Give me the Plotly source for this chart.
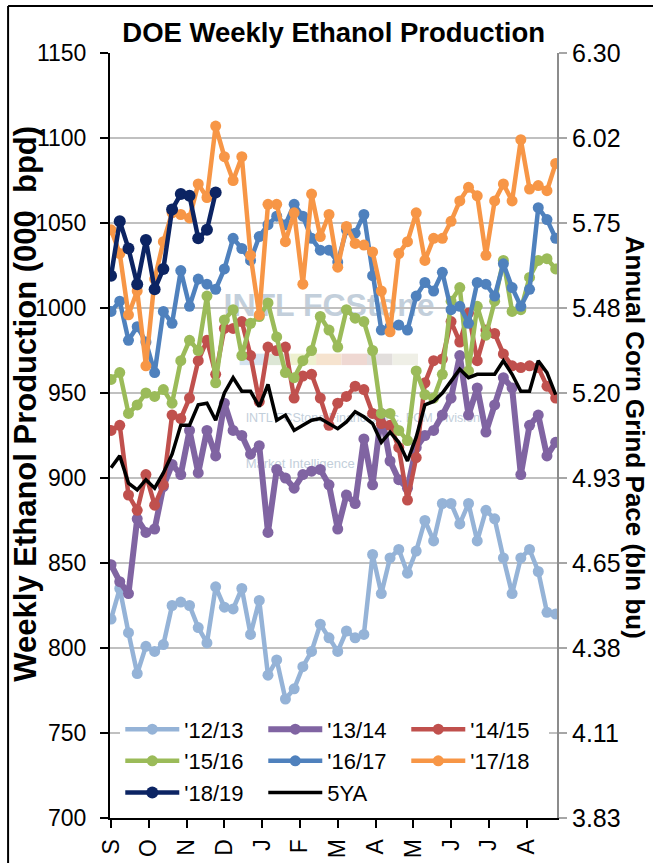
import plotly.graph_objects as go

# ---------------- data ----------------
months = ["S", "O", "N", "D", "J", "F", "M", "A", "M", "J", "J", "A"]
right_labels = ["3.83", "4.11", "4.38", "4.65", "4.93", "5.20", "5.48", "5.75", "6.02", "6.30"]
left_ticks = [700, 750, 800, 850, 900, 950, 1000, 1050, 1100, 1150]

y1213 = [817, 835, 809, 785, 801, 798, 802, 825, 827, 825, 812, 803, 836, 824, 823, 835, 808, 828,
         784, 793, 770, 776, 789, 798, 814, 806, 798, 810, 806, 808, 855, 832, 853, 858, 844, 857,
         875, 863, 885, 885, 873, 885, 863, 881, 876, 853, 832, 853, 858, 845, 821, 820]
y1314 = [849, 839, 832, 876, 868, 870, 895, 908, 902, 928, 903, 928, 913, 944, 928, 925, 914, 919,
         868, 905, 900, 894, 902, 904, 905, 896, 870, 890, 885, 923, 896, 938, 910, 899, 894, 918,
         925, 928, 937, 947, 972, 937, 953, 927, 943, 959, 953, 902, 931, 937, 913, 921]
y1415 = [928, 931, 890, 881, 902, 884, 896, 937, 935, 947, 969, 981, 961, 988, 988, 992, 972, 945,
         977, 975, 977, 947, 960, 961, 947, 931, 944, 948, 954, 952, 938, 932, 931, 918, 887, 912,
         956, 969, 970, 992, 980, 997, 969, 987, 985, 973, 966, 965, 966, 965, 954, 947]
y1516 = [958, 962, 938, 943, 950, 948, 952, 944, 969, 981, 975, 1007, 956, 993, 999, 972, 991, 995,
         1003, 983, 962, 959, 969, 975, 995, 987, 977, 999, 994, 992, 975, 938, 938, 928, 922, 963,
         949, 947, 961, 1004, 1012, 963, 1001, 984, 1004, 1028, 998, 999, 1018, 1028, 1029, 1023]
y1617 = [998, 1004, 981, 989, 980, 962, 998, 991, 1022, 1001, 1017, 1014, 1011, 1023, 1041, 1035,
         1028, 1042, 1049, 1054, 1049, 1061, 1054, 1041, 1034, 1034, 1027, 1046, 1044, 1055, 1019,
         987, 989, 990, 987, 1007, 1015, 1010, 1021, 999, 1001, 991, 1015, 1014, 1007, 1026, 1012,
         1001, 1011, 1059, 1052, 1041]
y1718 = [1046, 1032, 996, 1010, 966, 1017, 1039, 1056, 1055, 1053, 1073, 1065, 1107, 1089, 1075,
         1089, 1031, 996, 1061, 1061, 1039, 1056, 1014, 1067, 1042, 1055, 1024, 1048, 1038, 1037,
         1033, 1010, 986, 1032, 1039, 1056, 1028, 1041, 1041, 1051, 1063, 1071, 1066, 1031, 1063,
         1073, 1063, 1099, 1070, 1072, 1069, 1085]
y1819 = [1019, 1051, 1035, 1014, 1040, 1011, 1023, 1058, 1067, 1066, 1041, 1046, 1068]
y5ya = [906, 913, 897, 893, 899, 894, 903, 914, 931, 931, 943, 944, 934, 950, 959, 951, 951, 942,
        955, 934, 937, 928, 931, 934, 935, 932, 929, 933, 939, 936, 932, 921, 927, 921, 910, 924,
        943, 945, 950, 957, 964, 959, 961, 961, 961, 969, 961, 951, 951, 969, 962, 949]

series = [
    ("'12/13", y1213, "#95B3D7", 4.5, 11),
    ("'13/14", y1314, "#8064A2", 6, 11),
    ("'14/15", y1415, "#C0504D", 4.5, 11),
    ("'15/16", y1516, "#9BBB59", 4.5, 11),
    ("'16/17", y1617, "#4F81BD", 4.5, 11),
    ("'17/18", y1718, "#F79646", 4.5, 11),
    ("'18/19", y1819, "#0C2463", 4.5, 12),
]

SANS = "Liberation Sans, Arial, sans-serif"
NARROW = "Liberation Sans Narrow, Arial Narrow, Liberation Sans, Arial, sans-serif"

fig = go.Figure()
for name, vals, col, lw, ms in series:
    fig.add_trace(go.Scatter(
        x=list(range(len(vals))), y=vals, name=name, mode="lines+markers",
        line=dict(color=col, width=lw), marker=dict(color=col, size=ms),
    ))
fig.add_trace(go.Scatter(
    x=list(range(len(y5ya))), y=y5ya, name="5YA", mode="lines",
    line=dict(color="black", width=3.5),
))
# carrier for the right-hand axis
fig.add_trace(go.Scatter(x=[], y=[], yaxis="y2", showlegend=False, hoverinfo="skip"))

n_weeks = len(y1213)
month_pos = [k * n_weeks / len(months) for k in range(len(months))]

fig.update_layout(
    template="none",
    width=653, height=863,
    margin=dict(l=110, r=96, t=53, b=45, autoexpand=False),
    paper_bgcolor="white", plot_bgcolor="white",
    showlegend=True,
    title=dict(text="DOE Weekly Ethanol Production", x=0.511, y=0.962,
               xanchor="center", yanchor="middle",
               font=dict(family=SANS, size=27.5, color="black", weight="bold")),
    xaxis=dict(
        range=[-0.12, n_weeks - 0.85], tickvals=month_pos, ticktext=months,
        tickangle=-90, ticks="outside", ticklen=8, tickcolor="black", tickwidth=1.5,
        showline=True, linecolor="black", linewidth=2, showgrid=False, zeroline=False,
        automargin=False, ticklabelstandoff=2,
        tickfont=dict(family=SANS, size=23, color="black"),
    ),
    yaxis=dict(
        range=[700, 1150], tickvals=left_ticks, ticks="outside", ticklen=8,
        tickcolor="black", tickwidth=1.5, showline=True, linecolor="black", linewidth=2,
        showgrid=True, gridcolor="#C0C0C0", gridwidth=1.5, zeroline=False,
        automargin=False, ticklabelstandoff=9,
        tickfont=dict(family=SANS, size=23, color="black"),
    ),
    yaxis2=dict(
        overlaying="y", side="right", range=[700, 1150], tickvals=left_ticks,
        ticktext=right_labels, ticks="outside", ticklen=8, tickcolor="#A6A6A6",
        tickwidth=1.5, showline=True, linecolor="#8C8C8C", linewidth=2,
        showgrid=False, zeroline=False, automargin=False,
        tickfont=dict(family=SANS, size=25, color="black"),
    ),
    legend=dict(
        orientation="h", x=0.023, y=0.006, xanchor="left", yanchor="bottom",
        bgcolor="white", borderwidth=0, entrywidth=74, entrywidthmode="pixels",
        itemwidth=54, font=dict(family=SANS, size=22, color="black"),
        tracegroupgap=0,
    ),
    annotations=[
        dict(text="Weekly Ethanol Production (000  bpd)", xref="paper", yref="paper",
             x=-0.189, y=0.541, textangle=-90, showarrow=False,
             xanchor="center", yanchor="middle",
             font=dict(family=SANS, size=31, color="black", weight="bold")),
        dict(text="Annual Corn Grind Pace (bln bu)", xref="paper", yref="paper",
             x=1.175, y=0.498, textangle=90, showarrow=False,
             xanchor="center", yanchor="middle",
             font=dict(family=SANS, size=26, color="black", weight="bold")),
    ],
)

# border remnants of the original frame
shapes = [
    dict(type="line", xref="paper", yref="paper", x0=-0.228, x1=1.3, y0=1.0614, y1=1.0614,
         line=dict(color="black", width=2)),
    dict(type="line", xref="paper", yref="paper", x0=-0.228, x1=-0.228, y0=-0.06, y1=1.0614,
         line=dict(color="black", width=2)),
]
# faint watermark (drawn beneath the data)
wm = "#C3CFDB"
shapes += [
    dict(type="rect", xref="paper", yref="paper", x0=0.25, x1=0.73, y0=0.635, y1=0.715,
         layer="below", line=dict(width=0), fillcolor="rgba(0,0,0,0)",
         label=dict(text="INTL FCStone", textposition="middle center",
                    font=dict(family=NARROW, size=32, color=wm, weight="bold"))),
    dict(type="rect", xref="paper", yref="paper", x0=0.29, x1=0.74, y0=0.51, y1=0.54,
         layer="below", line=dict(width=0), fillcolor="rgba(0,0,0,0)",
         label=dict(text="INTL FCStone Financial Inc. FCM Division", textposition="middle left",
                    font=dict(family=NARROW, size=12.5, color=wm))),
    dict(type="rect", xref="paper", yref="paper", x0=0.29, x1=0.60, y0=0.45, y1=0.48,
         layer="below", line=dict(width=0), fillcolor="rgba(0,0,0,0)",
         label=dict(text="Market Intelligence", textposition="middle left",
                    font=dict(family=NARROW, size=13, color=wm))),
]
band = ["#D5E3EF", "#DCE6D5", "#EEF0CF", "#F6E3CF", "#EFD8D2", "#E2DEDC", "#EFEFE6"]
for k, c in enumerate(band):
    shapes.append(dict(type="rect", xref="paper", yref="paper",
                       x0=0.29 + k * 0.057, x1=0.29 + (k + 1) * 0.057, y0=0.592, y1=0.607,
                       layer="below", line=dict(width=0), fillcolor=c))
fig.update_layout(shapes=shapes)

fig.write_html(
    "out.html",
    config={"displayModeBar": False},
    post_script="document.body.style.margin='0';document.body.style.overflow='hidden';",
)
